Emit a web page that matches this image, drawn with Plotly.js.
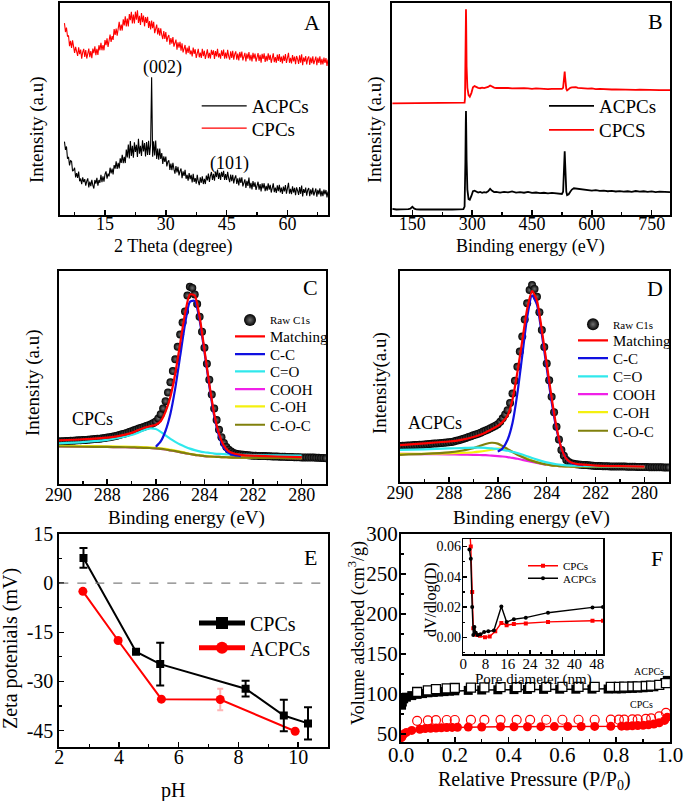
<!DOCTYPE html>
<html><head><meta charset="utf-8">
<script src="https://cdn.plot.ly/plotly-3.0.1.min.js"></script>
<style>html,body{margin:0;padding:0;background:#fff}#chart{width:685px;height:801px}</style>
</head><body><div id="chart"></div>
<script>
// ================= DATA =================
// Panel A: XRD (2 theta in degrees, intensity in arbitrary units)
const xrdTheta = [5,5.25,5.5,5.75,6,6.25,6.5,6.75,7,7.25,7.5,7.75,8,8.25,8.5,8.75,9,9.25,9.5,9.75,
10,10.25,10.5,10.75,11,11.25,11.5,11.75,12,12.25,12.5,12.75,13,13.25,13.5,13.75,14,14.25,14.5,14.75,
15,15.25,15.5,15.75,16,16.25,16.5,16.75,17,17.25,17.5,17.75,18,18.25,18.5,18.75,19,19.25,19.5,19.75,
20,20.25,20.5,20.75,21,21.25,21.5,21.75,22,22.25,22.5,22.75,23,23.25,23.5,23.75,24,24.25,24.5,24.75,
25,25.25,25.5,25.75,26,26.25,26.5,26.75,27,27.25,27.5,27.75,28,28.25,28.5,28.75,29,29.25,29.5,29.75,
30,30.25,30.5,30.75,31,31.25,31.5,31.75,32,32.25,32.5,32.75,33,33.25,33.5,33.75,34,34.25,34.5,34.75,
35,35.25,35.5,35.75,36,36.25,36.5,36.75,37,37.25,37.5,37.75,38,38.25,38.5,38.75,39,39.25,39.5,39.75,
40,40.25,40.5,40.75,41,41.25,41.5,41.75,42,42.25,42.5,42.75,43,43.25,43.5,43.75,44,44.25,44.5,44.75,
45,45.25,45.5,45.75,46,46.25,46.5,46.75,47,47.25,47.5,47.75,48,48.25,48.5,48.75,49,49.25,49.5,49.75,
50,50.25,50.5,50.75,51,51.25,51.5,51.75,52,52.25,52.5,52.75,53,53.25,53.5,53.75,54,54.25,54.5,54.75,
55,55.25,55.5,55.75,56,56.25,56.5,56.75,57,57.25,57.5,57.75,58,58.25,58.5,58.75,59,59.25,59.5,59.75,
60,60.25,60.5,60.75,61,61.25,61.5,61.75,62,62.25,62.5,62.75,63,63.25,63.5,63.75,64,64.25,64.5,64.75,
65,65.25,65.5,65.75,66,66.25,66.5,66.75,67,67.25,67.5,67.75,68,68.25,68.5,68.75,69,69.25,69.5,69.75,70];
const xrdACPCs = [34.6,30.7,32.3,26.6,27.4,23.4,25.6,25.3,20.7,21.1,22.3,17.7,19.7,17.5,20.5,15.9,17.2,14.5,17.8,15.5,
16.9,13.8,16.0,17.3,13.0,15.8,13.6,16.6,14.0,12.5,16.5,14.8,17.5,13.8,16.5,15.2,19.0,15.5,18.2,15.7,
19.3,20.6,17.1,19.5,18.2,22.3,19.6,21.9,19.1,23.5,21.9,25.3,21.7,24.6,22.0,26.7,24.6,28.4,24.4,27.4,
24.5,30.9,27.1,33.2,26.7,34.9,27.9,32.6,27.0,34.3,29.7,33.1,27.4,35.9,28.9,32.6,27.9,35.2,30.0,33.9,
27.6,34.4,28.3,35.0,28.3,33.4,65,27.5,34.8,28.1,35.1,26.4,31.3,26.1,31.3,26.4,29.2,24.1,27.7,25.1,
27.6,22.9,25.1,25.8,21.3,24.3,21.2,24.6,21.6,19.5,23.1,20.1,22.7,18.7,20.7,21.9,17.4,20.6,18.4,21.3,
17.1,18.9,16.2,19.8,16.9,18.9,15.4,19.4,15.6,17.4,14.8,18.9,15.8,14.1,17.8,15.2,18.2,14.6,17.1,14.6,
18.6,16.3,19.5,15.6,18.5,20.3,16.5,19.4,16.2,20.5,17.9,21.4,17.0,19.9,16.6,20.4,18.0,20.8,16.5,19.3,
16.6,20.4,17.4,15.5,19.1,16.0,19.0,14.9,17.4,18.7,14.7,17.3,14.0,17.7,15.1,17.8,13.5,15.9,16.8,12.8,
16.1,13.7,17.7,12.6,15.2,12.1,16.0,13.3,15.4,11.8,14.5,15.7,12.0,14.6,11.1,14.9,12.6,15.0,11.2,13.8,
11.5,14.9,12.0,14.2,10.6,13.5,14.9,10.8,12.9,10.4,14.0,11.3,14.2,10.7,12.9,10.0,13.4,11.1,14.1,10.1,
12.8,15.2,10.1,12.3,9.8,13.5,10.6,12.8,9.3,13.0,11.5,9.5,13.2,10.0,13.9,8.8,12.2,10.4,12.9,9.1,
11.8,12.7,8.9,12.1,9.7,12.8,9.2,11.2,12.5,8.7,11.9,9.7,12.6,8.8,11.4,8.9,12.0,9.7,11.8,8.3,11.1];
const xrdCPCs = [90.5,86.3,88.4,84.2,84.7,79.6,82.1,78.8,82.4,78.4,76.5,79.3,77.7,75.0,79.1,75.9,78.0,73.7,76.8,78.4,
74.6,77.8,73.8,76.7,78.5,74.4,77.3,74.0,78.5,76.3,79.6,75.4,78.4,75.5,80.1,77.7,81.2,77.7,80.2,77.7,
82.5,80.1,83.3,79.3,83.4,85.1,81.6,84.4,82.6,87.7,84.9,87.9,84.6,88.7,91.1,87.0,89.8,87.0,92.3,89.4,
93.7,89.0,92.7,88.9,94.8,91.9,95.8,90.4,94.6,90.3,95.9,92.1,96.6,90.6,93.9,89.7,95.3,91.0,94.1,89.0,
93.4,90.6,93.5,88.2,91.5,87.5,91.7,88.1,91.1,85.8,88.9,89.8,85.2,88.3,84.6,88.1,85.0,83.0,86.8,83.1,
86.3,81.7,84.0,84.9,80.3,83.5,80.8,83.9,79.4,81.6,82.7,78.0,81.4,78.9,81.7,77.5,81.0,76.7,79.4,80.2,
75.8,79.0,76.5,79.8,75.8,77.6,74.8,79.0,76.0,78.2,74.1,77.5,78.4,74.4,76.6,74.1,78.4,74.9,77.5,73.6,
76.8,78.1,74.0,76.5,73.8,77.9,75.5,77.7,73.6,77.3,74.8,78.4,74.3,76.2,73.7,77.7,75.0,78.0,73.7,76.6,
73.9,77.9,74.9,73.3,77.2,74.1,77.4,73.3,75.9,77.2,73.3,76.1,72.9,76.9,74.2,77.1,72.9,75.6,76.5,72.4,
76.1,73.7,76.9,72.9,75.6,72.4,76.5,73.8,76.1,72.4,75.3,76.4,72.7,75.6,71.9,76.0,73.6,76.3,72.2,75.1,
72.6,76.3,73.2,75.5,71.8,75.0,76.3,72.1,74.5,71.8,75.7,72.7,75.9,72.2,74.7,71.5,75.2,72.7,75.9,71.7,
74.6,76.5,71.8,74.1,71.5,75.4,72.4,74.7,71.1,75.0,73.5,71.3,75.3,71.9,75.8,70.7,74.3,72.3,75.0,71.0,
73.9,74.8,70.8,74.2,71.6,74.9,71.2,73.3,74.7,70.7,74.2,71.7,74.9,70.9,73.6,71.0,74.2,71.7,74.0,70.3,73.3];
const xrdPeakLabels = ['(002)', '(101)'];

// Panel B: XPS survey (binding energy eV, intensity a.u.)
const surveyEnergy = [100,110,120,130,140,145,150,155,160,170,180,190,200,210,220,230,240,250,260,270,278,281,282,283,284,284.5,285,286,288,291,294,298,302,306,310,315,320,325,330,335,340,345,350,355,360,370,380,390,400,410,420,430,440,450,460,470,480,490,500,510,520,525,528,530,531,532,533,534,536,538,542,546,550,555,560,565,570,580,590,600,610,620,630,640,650,660,670,680,690,700,710,720,730,740,750,760,770,780,790,796];
const surveyACPCs = [2.9,2.6,2.7,2.6,2.8,3.0,3.9,3.0,2.7,2.6,2.7,2.6,2.7,2.6,2.7,2.6,2.7,2.6,2.7,2.6,2.8,4,10,25,44,49,42,26,12,7.5,7.2,9,11.2,11.5,11,10.6,10.9,10.5,10.8,10.6,11.2,12.3,11.4,10.8,10.9,10.6,10.9,10.7,11.1,10.6,10.8,10.5,10.9,10.4,10.6,10.3,10.5,10.2,10.4,10.1,10,9.9,11,20,26,30,25,18,11,9.4,9.8,11,12,12.6,12.5,12.2,12,11.8,11.9,11.5,11.7,11.4,11.5,11.2,11.4,11.1,11.3,11,11.2,10.9,11.3,11,11.2,10.9,11.1,10.8,11,10.8,10.9,10.8];
const surveyCPCs = [52.7,52.7,52.7,52.7,52.7,52.7,52.7,52.7,52.7,52.7,52.7,52.7,52.7,52.7,52.7,52.7,52.7,52.7,52.7,52.7,52.7,53,55,72,92,97,90,70,60,56.5,55.8,57.5,60.2,60.8,60.3,60,59.8,60.1,59.9,60.1,60.4,61.1,60.5,60.1,59.9,60.0,59.8,59.9,59.7,59.8,59.6,59.8,59.7,59.5,59.7,59.5,59.6,59.4,59.5,59.4,59.4,59.5,60,63,66,67.6,65,62,59.5,58.8,59.5,60,60.2,60.4,60.3,60,59.9,59.8,59.6,59.7,59.4,59.5,59.3,59.4,59.2,59.3,59.2,59.1,59.2,59.1,59.0,59.1,59.0,59.0,58.9,59.0,58.9,58.9,58.8,58.9];

// Panels C & D: C1s high resolution (binding energy eV)
const c1sEnergy = [290,289.9,289.8,289.7,289.6,289.5,289.4,289.3,289.2,289.1,
289,288.9,288.8,288.7,288.6,288.5,288.4,288.3,288.2,288.1,
288,287.9,287.8,287.7,287.6,287.5,287.4,287.3,287.2,287.1,
287,286.9,286.8,286.7,286.6,286.5,286.4,286.3,286.2,286.1,
286,285.9,285.8,285.7,285.6,285.5,285.4,285.3,285.2,285.1,
285,284.9,284.8,284.7,284.6,284.5,284.4,284.3,284.2,284.1,
284,283.9,283.8,283.7,283.6,283.5,283.4,283.3,283.2,283.1,
283,282.9,282.8,282.7,282.6,282.5,282.4,282.3,282.2,282.1,
282,281.9,281.8,281.7,281.6,281.5,281.4,281.3,281.2,281.1,
281,280.9,280.8,280.7,280.6,280.5,280.4,280.3,280.2,280.1,
280,279.9,279.8,279.7,279.6,279.5,279.4,279.3,279.2,279.1,279];
const rawCPCs = [20.0,20.1,20.1,20.2,20.2,20.3,20.3,20.4,20.5,20.5,
20.6,20.7,20.8,20.9,21.0,21.1,21.2,21.3,21.5,21.6,
21.8,22.0,22.2,22.4,22.7,23.0,23.3,23.6,24.0,24.4,
24.8,25.2,25.6,26.0,26.4,26.8,27.2,27.6,28.0,28.6,
29.4,30.8,32.8,35.5,38.9,43.0,47.8,53.0,58.6,64.4,
70.2,75.8,81.0,88.5,92.6,92.0,89.0,84.5,78.5,71.5,
64.0,56.5,49.0,42.0,35.5,30.0,25.5,22.0,19.3,17.4,
16.1,15.2,14.6,14.2,14.0,13.8,13.7,13.6,13.5,13.4,
13.3,13.3,13.2,13.2,13.1,13.1,13.0,13.0,12.9,12.9,
12.9,12.8,12.8,12.8,12.7,12.7,12.7,12.6,12.6,12.6,
12.5,12.5,12.5,12.4,12.4,12.4,12.3,12.3,12.2,12.2,12.1];
const rawACPCs = [17.1,17.2,17.2,17.3,17.3,17.4,17.5,17.5,17.6,17.7,
17.8,17.9,18.0,18.1,18.2,18.3,18.4,18.5,18.6,18.7,
18.8,19.0,19.2,19.5,19.8,20.1,20.5,20.9,21.3,21.7,
22.1,22.5,22.9,23.4,23.9,24.4,24.9,25.5,26.1,26.7,
27.4,28.5,30.2,32.0,34.0,37.5,42.0,48.0,54.6,61.8,
68.9,77.0,84.7,91.0,93.4,91.5,87.8,80.5,72.0,64.0,
56.2,48.2,40.4,33.0,26.2,20.2,15.2,12.4,10.4,9.5,
8.9,8.6,8.4,8.3,8.2,8.1,8.0,7.9,7.8,7.7,
7.6,7.6,7.6,7.5,7.5,7.5,7.4,7.4,7.4,7.3,
7.3,7.3,7.3,7.2,7.2,7.2,7.2,7.1,7.1,7.1,
7.1,7.1,7.0,7.0,7.0,7.0,7.0,7.0,6.9,6.9,6.9];
const fitEnergy = [290,289,288,287.5,287,286.75,286.5,286.25,286,285.8,285.6,285.4,285.2,285,284.8,284.6,284.4,284.2,284,283.8,283.6,283.4,283.2,283,282.75,282.5,282,281,280];
const cMatching = [20.5,21,21.8,22.6,24,25.2,26.3,27.1,27.8,29.5,34,41,52,66,80,89,88.5,78.5,63,47,33,23.5,18,15.3,14.2,13.7,13.3,12.9,12.6];
const cCC = [null,null,null,null,null,null,null,null,17.5,20,25,33,45,60,75,85.5,86,77,62,46,32,22.5,17,14.5,13.5,13.1,null,null,null];
const cCO = [19.1,19.7,20.7,21.7,23,24,25.2,26.1,25.8,24.5,22.8,21.2,19.8,18.5,17.5,16.6,15.9,15.3,14.9,14.6,14.3,14.1,14,13.9,13.8,13.7,13.6,13.4,13.3];
const cCOOH = [17.6,17.5,17.4,17.3,17.2,17.1,17.0,16.9,16.7,16.5,16.2,15.8,15.4,15.0,14.5,14.1,13.7,13.4,13.1,12.9,12.8,12.7,12.6,12.5,12.4,12.4,12.3,12.2,12.1];
const cCOHyd = [17.9,17.8,17.7,17.6,17.5,17.4,17.3,17.2,17.0,16.8,16.5,16.1,15.7,15.2,14.7,14.2,13.8,13.5,13.2,13.0,12.8,12.7,12.6,12.5,12.4,12.4,12.3,12.2,12.1];
const cCOC = [17.6,17.5,17.4,17.3,17.2,17.1,17.0,16.9,16.7,16.5,16.2,15.8,15.4,15.0,14.5,14.1,13.7,13.4,13.1,12.9,12.8,12.7,12.6,12.5,12.4,12.4,12.3,12.2,12.1];
const dMatching = [17.5,18.3,19.2,20,21.3,22.3,23.5,25,26.6,28.5,31.5,39,52,67,82,90.5,86,72,56,40,26,16,11,9.2,8.5,8.2,7.8,7.5,7.3];
const dCC = [null,null,null,null,null,null,null,null,14.4,16,20,28,42,60,78,88.5,84,70,54,38,25,16,11,9,8.3,8,null,null,null];
const dCO = [15.2,15.5,15.9,16.1,16.3,16.3,16.2,15.9,15.6,15.2,14.8,14.3,13.7,13,12.2,11.4,10.6,9.9,9.3,8.8,8.4,8.1,7.9,7.8,7.7,7.6,7.5,7.4,7.3];
const dCOOH = [13.3,13.2,13.1,13,12.9,12.8,12.7,12.5,12.3,12.1,11.8,11.4,11,10.5,10,9.5,9,8.6,8.2,7.9,7.7,7.5,7.4,7.3,7.2,7.2,7.1,7.1,7];
const dCOHyd = [13.3,13.4,13.6,13.8,14.1,14.4,14.8,15.3,15.8,15.9,15.3,14.3,13.2,12.1,11.1,10.2,9.4,8.8,8.3,7.9,7.7,7.5,7.4,7.3,7.2,7.2,7.1,7.1,7];
const dCOC = [12.9,13.3,14,14.8,16,17,18,18.6,18.2,17,15.6,14.2,12.9,11.8,10.8,10,9.3,8.7,8.3,7.9,7.7,7.5,7.4,7.3,7.2,7.2,7.1,7.1,7];
const c1sLegendNames = ['Raw C1s','Matching','C-C','C=O','COOH','C-OH','C-O-C'];

// Panel E: zeta potential vs pH
const zetaPH_CPCs = [2.81,4.57,5.38,8.24,9.52,10.33];
const zeta_CPCs = [7.7,-20.9,-24.7,-32.2,-40.4,-42.8];
const zetaErr_CPCs = [3.0,0,6.5,2.4,4.8,4.9];
const zetaPH_ACPCs = [2.79,3.97,5.42,7.39,9.90];
const zeta_ACPCs = [-2.5,-17.5,-35.4,-35.5,-45.2];
const zetaErr_ACPCs = [0,0,0,3.3,0];
const zetaTickVals = [-45,-30,-15,0,15];
const zetaTickText = ['-45','-30','-15','0','15'];

// Panel F: N2 isotherms (relative pressure, volume adsorbed cm3/g)
const adsP_ACPCs = [0.002,0.005,0.01,0.02,0.04,0.06,0.08,0.10,0.12,0.14,0.16,0.18,0.20,0.25,0.30,0.36,0.42,0.47,0.53,0.59,0.65,0.71,0.77,0.80,0.82,0.84,0.86,0.88,0.90,0.92,0.94,0.96,0.98,0.99];
const adsV_ACPCs = [86,90,94,96,98,99.5,100.5,101.5,102,102.5,103,103.5,104,104.5,105,105.3,105.5,105.7,105.8,106,106,106.1,106.2,106.3,106.5,106.8,107,107.4,107.8,108.3,109,111,114,117];
const desP_ACPCs = [0.06,0.10,0.13,0.17,0.20,0.26,0.31,0.37,0.43,0.48,0.54,0.60,0.66,0.72,0.78,0.81,0.83,0.86,0.88,0.91,0.93,0.96,0.985];
const desV_ACPCs = [102.5,104.5,106,107,107.5,108,108.3,108.5,108.6,108.7,108.8,108.8,108.9,108.9,109,109,109.2,109.4,109.6,110,110.5,111.5,113.5];
const adsP_CPCs = [0.002,0.005,0.01,0.02,0.04,0.07,0.09,0.11,0.13,0.15,0.17,0.19,0.21,0.25,0.30,0.37,0.42,0.47,0.52,0.57,0.62,0.67,0.72,0.78,0.82,0.84,0.86,0.88,0.90,0.92,0.94,0.96,0.98,0.99];
const adsV_CPCs = [45.5,47.5,50,52,54.5,56,56.8,57.2,57.5,57.8,58,58.2,58.4,58.6,58.8,59,59,59.1,59.2,59.3,59.3,59.4,59.5,59.6,59.8,60,60.3,60.6,61,61.6,62.5,64,67,71];
const desP_CPCs = [0.06,0.10,0.13,0.17,0.20,0.26,0.31,0.37,0.43,0.48,0.54,0.60,0.66,0.72,0.78,0.81,0.83,0.86,0.88,0.91,0.93,0.96,0.985];
const desV_CPCs = [66.5,67,67.3,67.5,67.5,67.6,67.6,67.7,67.7,67.7,67.8,67.8,67.8,67.8,67.9,67.9,68,68.2,68.4,68.8,69.5,72,76.5];

// Panel F inset: pore size distribution (nm, dV/dlog(D))
const poreD_CPCs = [2.2,2.7,3.2,3.6,4.2,5.0,6.0,7.8,9.5,11.5,13.7,15.6,18.2,22.5,30.5,46.5,50.3];
const dVdlogD_CPCs = [0.075,0.06,0.03,0.006,0.002,0.0015,0.001,0.0,0.0005,0.004,0.0095,0.008,0.0088,0.0092,0.0102,0.011,0.011];
const poreD_ACPCs = [2.2,2.7,3.2,3.6,4.0,4.5,5.2,6.2,7.5,9.0,11.0,13.7,15.6,18.2,22.5,30.5,46.5,50.3];
const dVdlogD_ACPCs = [0.058,0.052,0.02,0.0015,0.0068,0.003,0.0015,0.002,0.0036,0.004,0.0045,0.0204,0.0101,0.012,0.013,0.0163,0.0198,0.0201];

// ================= STYLE / LAYOUT =================
const W = 685, H = 801;
const px = v => v / W;
const py = v => 1 - v / H;
const FONT = 'Liberation Serif, Times New Roman, serif';
const RED = '#ff0000', BLACK = '#000000';
const C_BLUE = '#1010e0', C_CYAN = '#30e8ec', C_MAG = '#f020e8', C_YEL = '#f4f010', C_OLIVE = '#80800c';

function tf(size) { return {family: FONT, size: size, color: '#000'}; }
function axis(extra) {
  return Object.assign({
    showline: true, mirror: true, linecolor: '#000', linewidth: 2,
    showgrid: false, zeroline: false, ticks: 'inside', ticklen: 5, tickwidth: 1.5, tickcolor: '#000',
    tickfont: tf(18), ticklabelstandoff: -7, fixedrange: true
  }, extra);
}
function noTickY(extra) {
  return axis(Object.assign({ticks: '', showticklabels: false}, extra));
}
function minor(dtick, len) { return {ticks: 'inside', ticklen: len || 3, tickwidth: 1.2, tickcolor: '#000', dtick: dtick, tick0: 0}; }

const legends = {};
let legendCount = 0;
function newLegend(xLeft, yCenter, size, itemwidth, sizing) {
  legendCount++;
  const id = legendCount === 1 ? 'legend' : 'legend' + legendCount;
  legends[id] = {
    x: px(xLeft), y: py(yCenter), xanchor: 'left', yanchor: 'middle',
    bgcolor: 'rgba(0,0,0,0)', borderwidth: 0, font: tf(size),
    itemwidth: itemwidth || 30, itemsizing: sizing || 'trace', tracegroupgap: 0
  };
  return id;
}

const traces = [];
// ---- A ----
traces.push({x: xrdTheta, y: xrdACPCs, xaxis: 'x', yaxis: 'y', mode: 'lines', name: 'ACPCs',
  line: {color: BLACK, width: 1.1}, legend: newLegend(196.7, 106, 19, 45)});
traces.push({x: xrdTheta, y: xrdCPCs, xaxis: 'x', yaxis: 'y', mode: 'lines', name: 'CPCs',
  line: {color: RED, width: 1.1}, legend: newLegend(196.7, 128.3, 19, 45)});
// ---- B ----
traces.push({x: surveyEnergy, y: surveyACPCs, xaxis: 'x2', yaxis: 'y2', mode: 'lines', name: 'ACPCs',
  line: {color: BLACK, width: 1.8}, legend: newLegend(544, 106, 19, 45)});
traces.push({x: surveyEnergy, y: surveyCPCs, xaxis: 'x2', yaxis: 'y2', mode: 'lines', name: 'CPCS',
  line: {color: RED, width: 1.8}, legend: newLegend(544, 130, 19, 45)});

// ---- C & D ----
function c1sPanel(xa, ya, raw, fits, legX, legYs) {
  const legIds = [newLegend(legX, legYs[0], 11, 30, 'constant')];
  for (let i = 1; i < 7; i++) legIds.push(newLegend(legX, legYs[i], 15, 30));
  traces.push({x: c1sEnergy, y: raw, xaxis: xa, yaxis: ya, mode: 'markers', name: c1sLegendNames[0],
    marker: {symbol: 'circle', size: 8, color: '#000', line: {width: 0},
      gradient: {type: 'radial', color: '#707070'}}, legend: legIds[0]});
  const colors = [RED, C_BLUE, C_CYAN, C_MAG, C_YEL, C_OLIVE];
  const drawOrder = [3, 4, 5, 2, 1, 0];
  drawOrder.forEach(k => {
    traces.push({x: fitEnergy, y: fits[k], xaxis: xa, yaxis: ya, mode: 'lines', name: c1sLegendNames[k + 1],
      line: {color: colors[k], width: 2.2, shape: 'spline', smoothing: 0.6}, connectgaps: false, legend: legIds[k + 1]});
  });
}
c1sPanel('x3', 'y3', rawCPCs, [cMatching, cCC, cCO, cCOOH, cCOHyd, cCOC], 230,
  [320, 336.7, 354.3, 371.7, 389.3, 406.7, 425]);
c1sPanel('x4', 'y4', rawACPCs, [dMatching, dCC, dCO, dCOOH, dCOHyd, dCOC], 573,
  [324.3, 340.7, 358.3, 376.7, 394.3, 412.3, 431]);

// ---- E ----
traces.push({x: zetaPH_ACPCs, y: zeta_ACPCs, xaxis: 'x5', yaxis: 'y5', mode: 'lines+markers', name: 'ACPCs',
  line: {color: RED, width: 2}, marker: {symbol: 'circle', size: 9, color: RED},
  error_y: {type: 'data', array: zetaErr_ACPCs, visible: true, color: 'rgba(255,90,90,0.45)', thickness: 2, width: 3},
  legend: newLegend(194, 647.7, 20, 46, 'constant')});
traces.push({x: zetaPH_CPCs, y: zeta_CPCs, xaxis: 'x5', yaxis: 'y5', mode: 'lines+markers', name: 'CPCs',
  line: {color: BLACK, width: 2}, marker: {symbol: 'square', size: 8, color: BLACK},
  error_y: {type: 'data', array: zetaErr_CPCs, visible: true, color: BLACK, thickness: 2, width: 4},
  legend: newLegend(194, 623, 20, 46, 'constant')});

// ---- F ----
traces.push({x: adsP_ACPCs, y: adsV_ACPCs, xaxis: 'x6', yaxis: 'y6', mode: 'lines+markers', showlegend: false,
  line: {color: BLACK, width: 1.5}, marker: {symbol: 'square', size: 9, color: BLACK}});
traces.push({x: desP_ACPCs, y: desV_ACPCs, xaxis: 'x6', yaxis: 'y6', mode: 'markers', showlegend: false,
  marker: {symbol: 'square', size: 9, color: '#fff', line: {color: BLACK, width: 1.3}}});
traces.push({x: adsP_CPCs, y: adsV_CPCs, xaxis: 'x6', yaxis: 'y6', mode: 'lines+markers', showlegend: false,
  line: {color: RED, width: 1.5}, marker: {symbol: 'circle', size: 9, color: RED}});
traces.push({x: desP_CPCs, y: desV_CPCs, xaxis: 'x6', yaxis: 'y6', mode: 'markers', showlegend: false,
  marker: {symbol: 'circle-open', size: 9, color: RED, line: {width: 1.2}}});
// inset
traces.push({x: poreD_CPCs, y: dVdlogD_CPCs, xaxis: 'x7', yaxis: 'y7', mode: 'lines+markers', name: 'CPCs',
  line: {color: RED, width: 1.4}, marker: {symbol: 'square', size: 4, color: RED},
  legend: newLegend(523, 565.7, 11, 30)});
traces.push({x: poreD_ACPCs, y: dVdlogD_ACPCs, xaxis: 'x7', yaxis: 'y7', mode: 'lines+markers', name: 'ACPCs',
  line: {color: BLACK, width: 1.4}, marker: {symbol: 'circle', size: 4, color: BLACK},
  legend: newLegend(523, 578.3, 11, 30)});

function ann(text, x, y, size, extra) {
  return Object.assign({text: text, x: px(x), y: py(y), xref: 'paper', yref: 'paper', showarrow: false,
    xanchor: 'center', yanchor: 'middle', font: tf(size)}, extra || {});
}
const rot = {textangle: -90};
const annotations = [
  // A
  ann(xrdPeakLabels[0], 162, 68, 18), ann(xrdPeakLabels[1], 230, 163, 18), ann('A', 312, 23, 22),
  ann('Intensity (a.u)', 37, 130, 19, rot), ann('2 Theta (degree)', 174, 247, 18),
  // B
  ann('B', 655, 22, 22), ann('Intensity (a.u)', 375, 130, 19, rot), ann('Binding energy (eV)', 530, 247, 18),
  // C
  ann('C', 310, 287, 22), ann('CPCs', 92, 419, 18), ann('Intensity (a.u)', 33, 383, 19, rot),
  ann('Binding energy (eV)', 186, 518, 19),
  // D
  ann('D', 655, 288, 22), ann('ACPCs', 435, 423, 18), ann('Intensity(a.u)', 380, 383, 19, rot),
  ann('Binding energy (eV)', 531, 518, 19),
  // E
  ann('E', 310, 557, 22), ann('Zeta potenials (mV)', 10, 649, 20, rot), ann('pH', 173, 790, 20),
  // F
  ann('F', 657, 558, 22), ann('ACPCs', 649, 671, 10), ann('CPCs', 641, 704, 10),
  ann('Volume adsorbed (cm<sup>3</sup>/g)', 357, 633, 18, rot), ann('Relative Pressure (P/P<sub>0</sub>)', 534, 780, 20),
  ann('dV/dlog(D)', 431, 600, 16, rot), ann('Pore diameter (nm)', 533, 679, 15)
];

const layout = Object.assign({
  width: W, height: H, margin: {l: 0, r: 0, t: 0, b: 0},
  paper_bgcolor: '#fff', plot_bgcolor: 'rgba(0,0,0,0)', showlegend: true,
  font: {family: FONT, color: '#000'},
  xaxis: axis({domain: [px(60), px(328)], range: [3.9, 70], dtick: 15, tick0: 0, minor: minor(7.5), anchor: 'y', ticklabelstandoff: -9}),
  yaxis: noTickY({domain: [py(215), py(3)], range: [0, 100], anchor: 'x'}),
  xaxis2: axis({domain: [px(392), px(670)], range: [99, 796], dtick: 150, tick0: 0, minor: minor(75), anchor: 'y2', ticklabelstandoff: -9}),
  yaxis2: noTickY({domain: [py(215), py(3)], range: [0, 100], anchor: 'x2'}),
  xaxis3: axis({domain: [px(58.6), px(326)], range: [290, 279], dtick: 2, tick0: 0, minor: minor(1), anchor: 'y3'}),
  yaxis3: noTickY({domain: [py(484), py(271)], range: [0, 100], anchor: 'x3'}),
  xaxis4: axis({domain: [px(400), px(669)], range: [290, 279], dtick: 2, tick0: 0, minor: minor(1), anchor: 'y4'}),
  yaxis4: noTickY({domain: [py(482), py(271)], range: [0, 100], anchor: 'x4'}),
  xaxis5: axis({domain: [px(59.3), px(328)], range: [2, 11], dtick: 2, tick0: 0, minor: minor(1), anchor: 'y5',
    tickfont: tf(20), ticklabelstandoff: -9}),
  yaxis5: axis({domain: [py(747), py(534)], range: [-50, 15], tickmode: 'array', tickvals: zetaTickVals, ticktext: zetaTickText,
    minor: minor(7.5), anchor: 'x5', tickfont: tf(20), ticklabelstandoff: 0}),
  xaxis6: axis({domain: [px(401), px(670)], range: [0, 1], dtick: 0.2, tick0: 0, tickformat: '.1f', minor: minor(0.1), anchor: 'y6',
    tickfont: tf(21), ticklabelstandoff: -7}),
  yaxis6: axis({domain: [py(742), py(534)], range: [40, 300], dtick: 50, tick0: 0, minor: minor(25), anchor: 'x6',
    tickfont: tf(21), ticklabelstandoff: -3}),
  xaxis7: axis({domain: [px(463.3), px(603.3)], range: [0, 50.4], dtick: 8, tick0: 0, minor: minor(4, 2), anchor: 'y7',
    linewidth: 1.5, ticklen: 4, tickfont: tf(15), ticklabelstandoff: -5}),
  yaxis7: axis({domain: [py(654), py(539)], range: [-0.011, 0.065], dtick: 0.02, tick0: 0, tickformat: '.2f', minor: minor(0.01, 2), anchor: 'x7',
    linewidth: 1.5, ticklen: 4, tickfont: tf(14), ticklabelstandoff: -2}),
  shapes: [{type: 'line', xref: 'x5 domain', yref: 'y5', x0: 0, x1: 1, y0: 0, y1: 0,
    line: {color: '#808080', width: 1.3, dash: 'dash'}}],
  annotations: annotations
}, legends);

Plotly.newPlot('chart', traces, layout, {staticPlot: true, displayModeBar: false});
</script>
</body></html>
